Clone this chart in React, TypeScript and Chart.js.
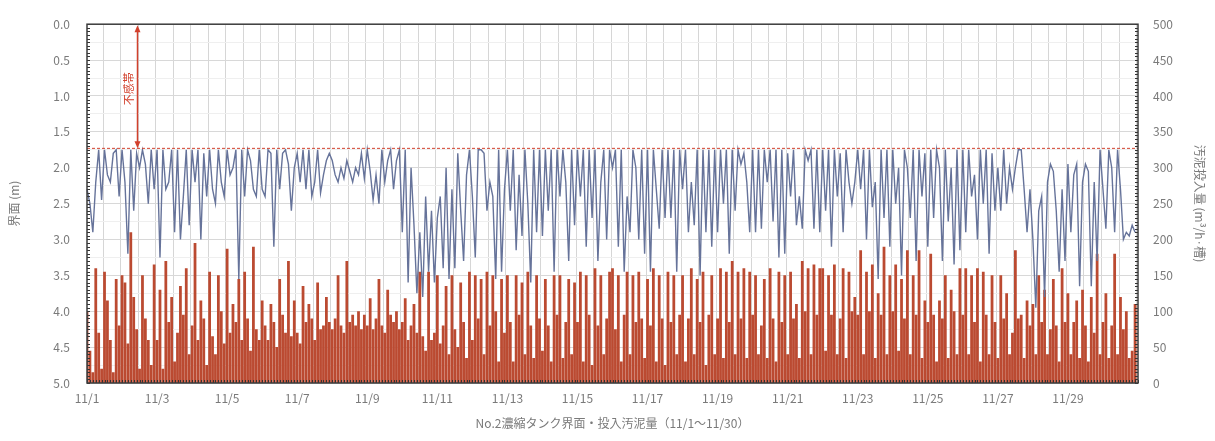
import { useEffect, useRef } from 'react';
import { Chart, registerables } from 'chart.js';

Chart.register(...registerables);

// ---- text ----
const dateLabels = ['11/1', '11/3', '11/5', '11/7', '11/9', '11/11', '11/13', '11/15', '11/17', '11/19', '11/21', '11/23', '11/25', '11/27', '11/29'];
const leftTitle = '界面 (m)';
const rightTitle = '汚泥投入量 (m³/h·槽)';
const chartTitle = 'No.2濃縮タンク界面・投入汚泥量（11/1～11/30）';
const deadZoneText = '不感帯';

// ---- data: 2-hour samples, 12 per day, 11/1 – 11/30 ----
const pointsPerDay = 12;
const dayCount = 30;
const labelEveryDays = 2;
const deadZoneLevel = 1.73;
const deadZoneArrowDay = 1.43;

// interface level (m)
const levelValues = [
  2.3, 2.5, 2.9, 2.2, 1.75, 2.45, 1.75, 2.1, 2.2, 1.8, 1.75, 2.4,
  1.75, 2.2, 3.2, 1.75, 2.6, 1.8, 2.0, 1.75, 1.95, 2.5, 1.75, 2.3,
  1.75, 3.25, 1.75, 2.3, 2.2, 1.75, 2.9, 1.75, 3.0, 2.4, 1.75, 2.8,
  1.75, 2.2, 1.75, 3.0, 1.8, 2.4, 1.75, 2.3, 2.5, 1.75, 2.2, 2.4,
  1.75, 2.1, 2.0, 1.75, 3.55, 1.75, 2.4, 1.75, 1.9, 2.3, 2.4, 1.75,
  2.3, 2.4, 1.75, 1.8, 3.1, 1.75, 2.3, 1.8, 1.75, 1.95, 2.6, 2.0,
  1.8, 2.2, 1.75, 2.3, 1.75, 2.4, 2.2, 1.75, 2.35, 2.1, 1.9, 1.8,
  1.9, 2.1, 2.2, 2.0, 2.15, 1.9, 2.05, 2.2, 2.0, 2.1, 1.8, 2.15,
  1.75, 2.05, 2.45, 2.1, 2.5, 1.75, 2.2, 1.9, 1.75, 2.3, 1.9, 1.75,
  2.9, 1.75, 3.6, 2.0, 2.8, 3.75, 2.9, 3.8, 2.4, 3.45, 2.6, 3.6,
  2.7, 2.4, 3.4, 2.0, 3.55, 2.3, 3.4, 1.8, 2.6, 3.3, 2.1, 1.75,
  2.4, 3.25, 1.75, 1.75, 1.8, 2.6, 2.2, 2.4, 3.55, 1.75, 3.45, 2.3,
  1.75, 2.6, 1.75, 3.15, 2.1, 2.95, 1.75, 2.5, 3.6, 1.75, 2.9, 1.75,
  2.95, 1.75, 2.6, 1.75, 3.45, 1.75, 2.4, 1.75, 2.2, 3.3, 1.75, 2.8,
  1.75, 2.4, 1.75, 3.1, 1.75, 2.7, 1.75, 3.3, 2.2, 1.75, 3.0, 1.75,
  2.0, 1.75, 3.1, 1.75, 3.45, 2.4, 2.9, 1.75, 2.0, 3.0, 1.75, 3.2,
  1.75, 3.45, 1.75, 2.3, 2.85, 1.75, 2.7, 1.75, 2.7, 1.75, 3.45, 1.75,
  2.3, 1.75, 2.9, 2.2, 2.8, 1.75, 3.5, 1.75, 2.9, 1.75, 3.1, 1.75,
  2.9, 1.75, 2.5, 1.75, 3.2, 1.75, 2.6, 1.75, 1.95, 1.8, 2.2, 2.9,
  1.75, 2.9, 1.75, 2.85, 1.75, 2.2, 1.75, 2.75, 1.75, 3.25, 1.75, 3.2,
  1.8, 2.4, 1.75, 2.8, 2.4, 2.85, 1.75, 1.9, 1.75, 2.85, 1.75, 2.9,
  1.75, 2.6, 1.75, 3.1, 1.75, 2.4, 1.8, 2.9, 1.75, 2.2, 2.5, 2.2,
  1.75, 2.3, 1.75, 3.0, 1.75, 2.55, 2.2, 3.55, 1.75, 2.7, 1.75, 3.1,
  1.75, 2.5, 2.0, 3.5, 1.75, 2.0, 2.7, 1.75, 3.3, 1.75, 2.4, 1.8,
  3.1, 1.75, 2.7, 1.75, 2.0, 3.3, 1.75, 2.75, 2.0, 3.35, 1.75, 3.15,
  1.75, 2.9, 1.75, 2.4, 2.1, 3.0, 1.75, 2.5, 1.75, 3.2, 1.8, 2.6,
  2.0, 2.6, 1.75, 2.5, 2.0, 2.3, 2.0, 1.75, 1.75, 2.3, 2.9, 2.3,
  3.0, 3.95, 2.6, 2.4, 3.8, 2.2, 1.95, 2.05, 2.6, 3.45, 2.3, 3.3,
  1.95, 2.9, 2.1, 1.95, 3.65, 2.2, 1.95, 2.05, 3.65, 2.2, 3.3, 1.75,
  2.3, 2.85, 1.75, 2.0, 2.9, 1.75, 2.3, 3.0, 2.9, 2.95, 2.8, 2.9,
];

// sludge inflow (m3/h per tank)
const inflowValues = [
  100, 45, 15, 160, 70, 20, 155, 115, 60, 15, 145, 80,
  150, 140, 55, 210, 120, 75, 20, 150, 90, 60, 25, 165,
  60, 130, 20, 170, 85, 120, 30, 70, 135, 95, 160, 40,
  80, 195, 60, 115, 90, 25, 155, 65, 40, 150, 100, 55,
  187, 70, 110, 85, 145, 60, 155, 90, 45, 190, 75, 60,
  115, 80, 60, 110, 85, 50, 145, 95, 70, 170, 65, 115,
  70, 55, 135, 85, 110, 90, 60, 140, 75, 80, 120, 85,
  75, 90, 150, 80, 70, 170, 85, 95, 80, 100, 75, 95,
  80, 118, 75, 90, 145, 80, 70, 130, 95, 85, 100, 75,
  85, 118, 60, 80, 110, 70, 155, 65, 45, 155, 60, 70,
  150, 55, 80, 135, 40, 150, 75, 50, 140, 85, 35, 155,
  60, 150, 90, 145, 40, 155, 80, 150, 100, 30, 145, 70,
  150, 85, 30, 150, 95, 140, 40, 155, 80, 35, 150, 90,
  45, 145, 80, 30, 150, 95, 150, 35, 85, 145, 40, 140,
  85, 155, 30, 150, 95, 25, 160, 80, 150, 40, 90, 155,
  160, 75, 150, 30, 95, 155, 40, 150, 85, 155, 90, 35,
  145, 80, 160, 30, 150, 90, 25, 155, 85, 150, 40, 95,
  150, 30, 90, 160, 40, 145, 85, 155, 25, 95, 150, 40,
  90, 160, 35, 155, 85, 170, 40, 155, 90, 160, 35, 155,
  95, 150, 40, 80, 145, 35, 160, 90, 30, 155, 85, 150,
  40, 155, 90, 110, 35, 170, 100, 160, 40, 165, 95, 160,
  160, 45, 150, 95, 165, 40, 90, 160, 35, 155, 100, 120,
  95, 185, 40, 155, 100, 165, 35, 125, 95, 190, 40, 150,
  100, 165, 45, 145, 90, 185, 40, 150, 95, 185, 35, 115,
  85, 180, 95, 30, 115, 90, 150, 35, 130, 100, 40, 160,
  95, 160, 40, 150, 85, 160, 30, 155, 95, 40, 150, 85,
  35, 150, 90, 125, 40, 70, 185, 90, 95, 35, 115, 80,
  110, 40, 150, 85, 130, 40, 75, 145, 80, 30, 160, 85,
  125, 40, 85, 115, 35, 130, 80, 30, 120, 70, 180, 40,
  85, 125, 35, 80, 180, 40, 120, 75, 100, 35, 45, 110,
];

const W = 1215;
const H = 441;
const AREA = { left: 87, right: 1138, top: 19, bottom: 383 };
const FONT = '"Noto Sans CJK JP", "Noto Sans", sans-serif';
const TEXT_COLOR = '#7a7a7a';
const RED = '#d2402c';

const overlayPlugin = {
  id: 'overlay',
  afterDatasetsDraw(chart: any) {
    const { ctx, chartArea, scales } = chart;
    const x = scales.x;
    const y = scales.y;
    const y1 = scales.y1;
    ctx.save();

    // dead-zone dashed line
    const dzY = y.getPixelForValue(deadZoneLevel);
    ctx.strokeStyle = RED;
    ctx.lineWidth = 1;
    ctx.setLineDash([3, 2]);
    ctx.beginPath();
    ctx.moveTo(chartArea.left, dzY);
    ctx.lineTo(chartArea.right, dzY);
    ctx.stroke();
    ctx.setLineDash([]);

    // double arrow
    const ax = Math.round(x.getPixelForValue(deadZoneArrowDay * pointsPerDay)) + 0.5;
    const aTop = chartArea.top + 1;
    ctx.lineWidth = 1.5;
    ctx.beginPath();
    ctx.moveTo(ax, aTop + 4);
    ctx.lineTo(ax, dzY - 4);
    ctx.stroke();
    ctx.fillStyle = RED;
    ctx.beginPath();
    ctx.moveTo(ax, aTop);
    ctx.lineTo(ax - 3, aTop + 7);
    ctx.lineTo(ax + 3, aTop + 7);
    ctx.closePath();
    ctx.fill();
    ctx.beginPath();
    ctx.moveTo(ax, dzY);
    ctx.lineTo(ax - 3, dzY - 7);
    ctx.lineTo(ax + 3, dzY - 7);
    ctx.closePath();
    ctx.fill();

    // dead-zone label
    ctx.save();
    ctx.translate(ax - 9, y.getPixelForValue(0.9));
    ctx.rotate(-Math.PI / 2);
    ctx.font = `11px ${FONT}`;
    ctx.textAlign = 'center';
    ctx.textBaseline = 'middle';
    ctx.fillText(deadZoneText, 0, 0);
    ctx.restore();

    // minor ticks (inside)
    ctx.strokeStyle = '#333';
    ctx.lineWidth = 1;
    ctx.beginPath();
    for (let v = 0; v <= 5.0001; v += 0.05) {
      const py = Math.round(y.getPixelForValue(v)) + 0.5;
      ctx.moveTo(chartArea.left, py);
      ctx.lineTo(chartArea.left + 3, py);
    }
    for (let v = 0; v <= 500; v += 5) {
      const py = Math.round(y1.getPixelForValue(v)) + 0.5;
      ctx.moveTo(chartArea.right, py);
      ctx.lineTo(chartArea.right - 3, py);
    }
    for (let i = 0; i <= dayCount * pointsPerDay; i++) {
      const px = Math.round(x.getPixelForValue(i)) + 0.5;
      ctx.moveTo(px, chartArea.bottom);
      ctx.lineTo(px, chartArea.bottom - 3);
    }
    ctx.stroke();

    // frame
    ctx.strokeStyle = '#3c3c3c';
    ctx.lineWidth = 1.5;
    ctx.strokeRect(chartArea.left, chartArea.top, chartArea.right - chartArea.left, chartArea.bottom - chartArea.top);
    ctx.restore();
  },
};

export default function App() {
  const canvasRef = useRef<HTMLCanvasElement | null>(null);

  useEffect(() => {
    document.body.style.margin = '0';
    const canvas = canvasRef.current;
    if (!canvas) return;
    const total = dayCount * pointsPerDay;
    const categories = Array.from({ length: total + 1 }, (_, i) => String(i));
    const labelStep = labelEveryDays * pointsPerDay;

    const chart = new Chart(canvas, {
      type: 'bar',
      data: {
        labels: categories,
        datasets: [
          {
            type: 'line',
            label: leftTitle,
            data: levelValues,
            yAxisID: 'y',
            borderColor: '#66739a',
            borderWidth: 1.4,
            pointRadius: 0,
            tension: 0,
            order: 0,
          } as any,
          {
            type: 'bar',
            label: rightTitle,
            data: inflowValues,
            yAxisID: 'y1',
            backgroundColor: '#bb4a31',
            barPercentage: 0.95,
            categoryPercentage: 1,
            order: 1,
          },
        ],
      },
      options: {
        animation: false,
        responsive: true,
        maintainAspectRatio: false,
        layout: { padding: { top: AREA.top, left: 0, right: 0, bottom: 0 } },
        plugins: { legend: { display: false }, tooltip: { enabled: false } },
        scales: {
          x: {
            type: 'category',
            offset: false,
            grid: {
              drawTicks: false,
              color: (c: any) => (c.index % (pointsPerDay / 2) === 0 ? '#d6d6d6' : 'rgba(0,0,0,0)'),
            },
            border: { display: false },
            ticks: {
              autoSkip: false,
              maxRotation: 0,
              minRotation: 0,
              padding: 8,
              color: TEXT_COLOR,
              font: { family: FONT, size: 12 },
              callback: (_v: any, i: number) => (i % labelStep === 0 && dateLabels[i / labelStep] ? dateLabels[i / labelStep] : ''),
            },
            title: {
              display: true,
              text: chartTitle,
              color: TEXT_COLOR,
              font: { family: FONT, size: 12 },
              padding: { top: 4, bottom: 10 },
            },
            afterFit: (s: any) => { s.height = H - AREA.bottom; },
          },
          y: {
            type: 'linear',
            position: 'left',
            reverse: true,
            min: 0,
            max: 5,
            grid: {
              drawTicks: false,
              color: (c: any) => (Math.abs(c.tick.value * 2 - Math.round(c.tick.value * 2)) < 1e-6 ? '#d8d8d8' : '#efefef'),
            },
            border: { display: false },
            ticks: {
              stepSize: 0.25,
              autoSkip: false,
              padding: 17,
              color: TEXT_COLOR,
              font: { family: FONT, size: 12 },
              callback: (v: any) => (Math.abs(v * 2 - Math.round(v * 2)) < 1e-6 ? Number(v).toFixed(1) : ''),
            },
            title: {
              display: true,
              text: leftTitle,
              color: TEXT_COLOR,
              font: { family: FONT, size: 12 },
              padding: { top: 7, bottom: 0 },
            },
            afterFit: (s: any) => { s.width = AREA.left; },
          },
          y1: {
            type: 'linear',
            position: 'right',
            min: 0,
            max: 500,
            grid: { display: false, drawTicks: false },
            border: { display: false },
            ticks: {
              stepSize: 50,
              padding: 15,
              color: TEXT_COLOR,
              font: { family: FONT, size: 12 },
            },
            title: {
              display: true,
              text: rightTitle,
              color: TEXT_COLOR,
              font: { family: FONT, size: 12 },
              padding: { top: 8, bottom: 0 },
            },
            afterFit: (s: any) => { s.width = W - AREA.right; },
          },
        },
      } as any,
      plugins: [overlayPlugin],
    });
    return () => chart.destroy();
  }, []);

  return (
    <div style={{ width: W, height: H, position: 'relative' }}>
      <canvas ref={canvasRef} />
    </div>
  );
}
